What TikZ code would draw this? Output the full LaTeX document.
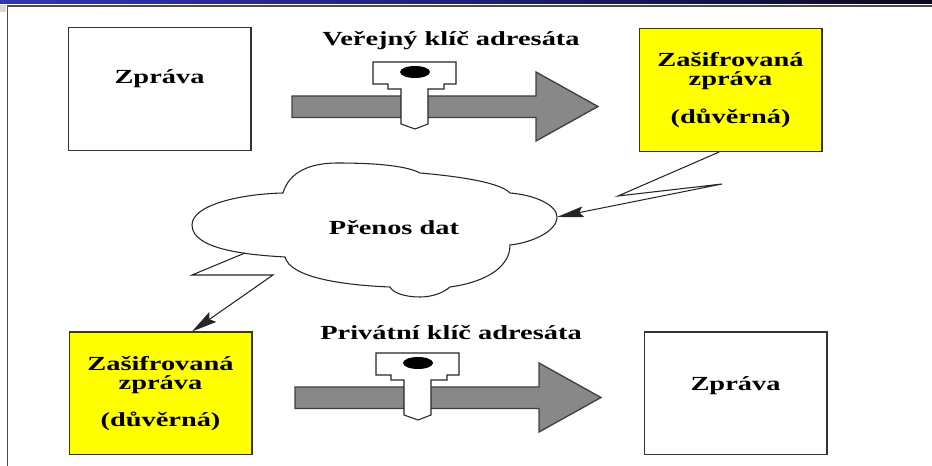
\documentclass[tikz,border=0pt]{standalone}
\usepackage{fontspec}
\setmainfont[FakeStretch=1.42]{Liberation Serif}
\usepackage{tikz}
\usetikzlibrary{arrows.meta}
\definecolor{bandL}{RGB}{50,50,185}
\definecolor{bandM}{RGB}{30,30,120}
\definecolor{bandR}{RGB}{8,8,30}
\definecolor{arrowgray}{RGB}{136,136,136}
\definecolor{boxyellow}{RGB}{255,255,0}
\tikzset{
  msgbox/.style={draw=black!80, line width=1pt, minimum width=137pt, minimum height=92pt, inner sep=0pt, align=center, font=\fontsize{15}{14.25}\selectfont\bfseries},
  encbox/.style={msgbox, fill=boxyellow},
  bigarrow/.style={draw=black!75, line width=1pt, fill=arrowgray, line join=miter},
  keybody/.style={draw=black!85, line width=.8pt, fill=white},
  bolt/.style={draw=black!85, line width=.8pt},
  caption/.style={font=\fontsize{15}{15}\selectfont\bfseries, inner sep=0pt}
}
\begin{document}
\begin{tikzpicture}[x=0.75pt, y=-0.75pt]
  \useasboundingbox (0,0) rectangle (932,466);

  % Ram
  \shade[left color=bandL, right color=bandM] (0,0) rectangle (466,4);
  \shade[left color=bandM, right color=bandR] (466,0) rectangle (932,4);
  \fill[black!15] (0,5) rectangle (6,12);
  \draw[black!70, line width=1.3pt] (7.5,466) -- (7.5,6) -- (932,6);

  % Mrak
  \draw[bolt, fill=white] (283,193) .. controls (289,172) and (310,163) .. (337,163)
    .. controls (370,163) and (405,165) .. (420,173)
    .. controls (455,176) and (500,182) .. (510,193)
    .. controls (535,195) and (557,205) .. (557,217)
    .. controls (557,232) and (530,243) .. (510,245)
    .. controls (510,270) and (480,283) .. (450,287)
    .. controls (443,293) and (432,297) .. (420,297)
    .. controls (405,297) and (393,293) .. (390,287)
    .. controls (340,285) and (290,277) .. (285,257)
    .. controls (250,255) and (192,250) .. (192,225)
    .. controls (192,205) and (240,194) .. (283,193) -- cycle;
  \node[caption] (cloud) at (394,228) {Přenos dat};
  \coordinate (cloudE) at (557,217);
  \coordinate (cloudSW) at (245,253);

  % Krabice
  \node[msgbox] (msgA) at (159.5,89) {Zpráva\\[4pt]\mbox{}};
  \node[encbox] (encA) at (730.5,90) {Zašifrovaná\\zpráva\\[14pt](důvěrná)};
  \node[encbox] (encB) at (160.5,393.5) {Zašifrovaná\\zpráva\\[14pt](důvěrná)};
  \node[msgbox] (msgB) at (735.5,393.5) {Zpráva\\[1pt]\mbox{}};

  % Popisky
  \node[caption] (pubKey) at (451,41) {Veřejný klíč adresáta};
  \node[caption] (privKey) at (451,333) {Privátní klíč adresáta};

  % Sipky a klice
  \foreach \dx/\dy in {0/0, 3/291} {
    \begin{scope}[shift={(\dx,\dy)}]
      \draw[bigarrow] (292,96) -- (536,96) -- (536,72) -- (598,106.5) -- (536,141) -- (536,117.5) -- (292,117.5) -- cycle;
      \draw[keybody] (373,62) -- (456,62) -- (456,84) -- (444,84) -- (444,89) -- (428,89) -- (428,124)
        -- (415,129) -- (401,124) -- (401,89) -- (388,89) -- (388,84) -- (373,84) -- cycle;
      \fill[black] (415,72) ellipse (15 and 6);
    \end{scope}
  }

  % Blesky
  \coordinate (boltA1) at (618,196);
  \coordinate (boltA2) at (722,184);
  \coordinate (boltB1) at (192,275);
  \coordinate (boltB2) at (273,275);
  \draw[bolt, -{Stealth[length=20pt, width=8pt, inset=3pt]}] ([xshift=-8.5pt]encA.south) -- (boltA1) -- (boltA2) -- (cloudE);
  \draw[bolt, -{Stealth[length=19pt, width=9pt, inset=3pt]}] (cloudSW) -- (boltB1) -- (boltB2) -- ([xshift=23.6pt]encB.north);
\end{tikzpicture}
\end{document}
